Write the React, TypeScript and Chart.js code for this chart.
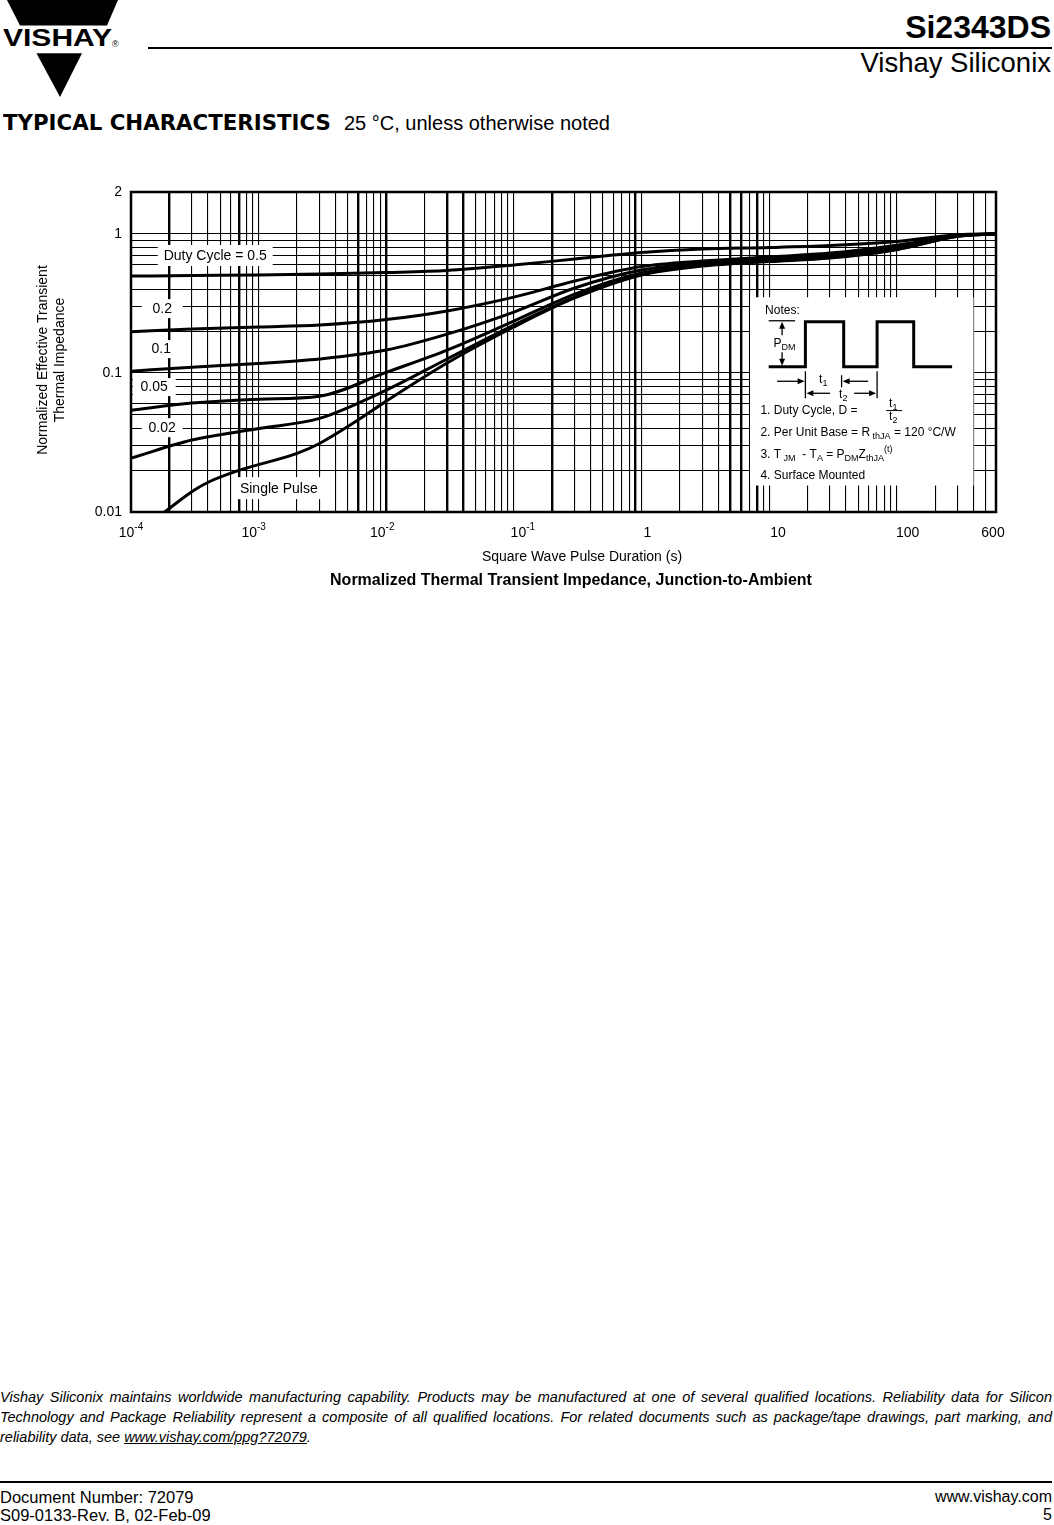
import React, { useEffect, useRef } from "react";
import { Chart, registerables } from "chart.js";

Chart.register(...registerables);

const FAM = '"Liberation Sans", Arial, Helvetica, sans-serif';

// ---------------- data ----------------
const xDuty = [1e-4, 3e-4, 1e-3, 3e-3, 1e-2, 3e-2, 0.1, 0.3, 1, 3, 10, 30, 100, 300, 600];
const yDuty05 = [0.497, 0.502, 0.506, 0.514, 0.527, 0.545, 0.597, 0.659, 0.734, 0.778, 0.797, 0.824, 0.881, 0.985, 1.0];
const yDuty02 = [0.198, 0.207, 0.214, 0.221, 0.242, 0.279, 0.351, 0.458, 0.582, 0.638, 0.682, 0.728, 0.83, 0.975, 1.0];
const yDuty01 = [0.103, 0.11, 0.117, 0.126, 0.146, 0.19, 0.274, 0.408, 0.549, 0.617, 0.659, 0.699, 0.8, 0.97, 1.0];
const yDuty005 = [0.054, 0.0607, 0.0648, 0.068, 0.101, 0.146, 0.236, 0.369, 0.523, 0.602, 0.648, 0.687, 0.79, 0.965, 1.0];
const yDuty002 = [0.0244, 0.0329, 0.0398, 0.0471, 0.0752, 0.126, 0.221, 0.351, 0.514, 0.592, 0.638, 0.676, 0.775, 0.96, 1.0];
const xSingle = [1.83e-4, 3.14e-4, 4.1e-4, 7.1e-4, 2e-3, 3e-3, 6e-3, 1e-2, 3e-2, 0.1, 0.3, 1, 3, 10, 30, 100, 300, 600];
const ySingle = [0.01, 0.0144, 0.0165, 0.02, 0.0264, 0.0311, 0.0458, 0.0627, 0.118, 0.214, 0.346, 0.506, 0.587, 0.632, 0.67, 0.77, 0.96, 1.0];

const seriesNames = ["Duty Cycle = 0.5", "0.2", "0.1", "0.05", "0.02", "Single Pulse"];

const xTickValues = [1e-4, 1e-3, 1e-2, 1e-1, 1, 10, 100, 600];
const xTickBase = ["10", "10", "10", "10", "1", "10", "100", "600"];
const xTickExp = ["-4", "-3", "-2", "-1", "", "", "", ""];
const yTickValues = [2, 1, 0.1, 0.01];
const yTickText = ["2", "1", "0.1", "0.01"];

// grid lines that are drawn heavier in the reference
const xThickGrid = [2e-4, 7e-4, 6e-3, 1e-2, 3e-2, 4e-2, 0.2, 0.9, 5, 6, 8];

// ---------------- layout (positions, not data) ----------------
const xTickShift = [0, -5, -4, 9, 6, 9, 11, -3];
const curveLabels = [
  { text: "Duty Cycle = 0.5", x: 4.57e-4, y: 0.699, w: 115, h: 21 },
  { text: "0.2", x: 1.756e-4, y: 0.29, w: 41, h: 19 },
  { text: "0.1", x: 1.726e-4, y: 0.1484, w: 33, h: 18 },
  { text: "0.05", x: 1.52e-4, y: 0.0791, w: 43, h: 18 },
  { text: "0.02", x: 1.756e-4, y: 0.0404, w: 41, h: 19 },
  { text: "Single Pulse", x: 1.44e-3, y: 0.01484, w: 88, h: 22 },
];
const notesBox = { x0: 7.1, x1: 400, y0: 0.35, y1: 0.0155 };

function logGrid(min: number, max: number) {
  const out: number[] = [];
  for (let e = Math.floor(Math.log10(min)); e <= Math.ceil(Math.log10(max)); e++) {
    for (let m = 1; m <= 9; m++) {
      const v = Number((m * Math.pow(10, e)).toPrecision(6));
      if (v >= min * 0.999999 && v <= max * 1.000001) out.push(v);
    }
  }
  return out;
}
const xGrid = logGrid(1e-4, 600);
const yGrid = logGrid(0.01, 2);
const isThick = (v: number) => v != null && xThickGrid.some((t) => Math.abs(Math.log10(v / t)) < 1e-6);

type Part = { t: string; sub?: boolean; sup?: boolean };
function drawRich(ctx: CanvasRenderingContext2D, x: number, y: number, parts: Part[], size: number) {
  let cx = x;
  ctx.textAlign = "left";
  ctx.textBaseline = "middle";
  for (const p of parts) {
    const s = p.sub || p.sup ? Math.round(size * 0.78) : size;
    ctx.font = `${s}px ${FAM}`;
    const dy = p.sub ? size * 0.35 : p.sup ? -size * 0.4 : 0;
    ctx.fillText(p.t, cx, y + dy);
    cx += ctx.measureText(p.t).width;
  }
}
function seg(ctx: CanvasRenderingContext2D, x1: number, y1: number, x2: number, y2: number) {
  ctx.beginPath();
  ctx.moveTo(x1, y1);
  ctx.lineTo(x2, y2);
  ctx.stroke();
}
function arrow(ctx: CanvasRenderingContext2D, x1: number, y1: number, x2: number, y2: number) {
  const a = Math.atan2(y2 - y1, x2 - x1);
  const L = 7, W = 3;
  seg(ctx, x1, y1, x2 - Math.cos(a) * 4, y2 - Math.sin(a) * 4);
  ctx.beginPath();
  ctx.moveTo(x2, y2);
  ctx.lineTo(x2 - L * Math.cos(a) + W * Math.sin(a), y2 - L * Math.sin(a) - W * Math.cos(a));
  ctx.lineTo(x2 - L * Math.cos(a) - W * Math.sin(a), y2 - L * Math.sin(a) + W * Math.cos(a));
  ctx.closePath();
  ctx.fill();
}

function drawNotes(ctx: CanvasRenderingContext2D, bx: number, by: number) {
  const X = (d: number) => bx + d;
  const Y = (d: number) => by + d;
  ctx.fillStyle = "#000";
  ctx.strokeStyle = "#000";
  drawRich(ctx, X(15), Y(13), [{ t: "Notes:" }], 12);
  ctx.lineWidth = 3;
  ctx.lineJoin = "miter";
  const wave = [[18.6, 69.5], [55.3, 69.5], [55.3, 24.5], [93.6, 24.5], [93.6, 69.5], [127, 69.5], [127, 24.5], [163.6, 24.5], [163.6, 69.5], [202, 69.5]];
  ctx.beginPath();
  wave.forEach(([dx, dy], i) => (i ? ctx.lineTo(X(dx), Y(dy)) : ctx.moveTo(X(dx), Y(dy))));
  ctx.stroke();
  ctx.lineWidth = 1.3;
  // P_DM
  seg(ctx, X(18.6), Y(23.5), X(45), Y(23.5));
  arrow(ctx, X(32), Y(38), X(32), Y(24.5));
  arrow(ctx, X(32), Y(55), X(32), Y(68.5));
  drawRich(ctx, X(23.3), Y(46), [{ t: "P" }, { t: "DM", sub: true }], 12);
  // t1
  arrow(ctx, X(27), Y(84), X(54.5), Y(84));
  seg(ctx, X(91.5), Y(78), X(91.5), Y(90));
  arrow(ctx, X(118), Y(84), X(92.5), Y(84));
  drawRich(ctx, X(69), Y(82), [{ t: "t" }, { t: "1", sub: true }], 12);
  // t2
  seg(ctx, X(55.3), Y(74), X(55.3), Y(101));
  arrow(ctx, X(80), Y(96), X(56.3), Y(96));
  seg(ctx, X(127), Y(74), X(127), Y(101));
  arrow(ctx, X(104), Y(96), X(126), Y(96));
  drawRich(ctx, X(89), Y(97), [{ t: "t" }, { t: "2", sub: true }], 12);
  // text notes
  drawRich(ctx, X(10.3), Y(113.5), [{ t: "1. Duty Cycle, D =" }], 12);
  drawRich(ctx, X(139), Y(106.5), [{ t: "t" }, { t: "1", sub: true }], 12);
  ctx.lineWidth = 1;
  seg(ctx, X(136), Y(113.3), X(152), Y(113.3));
  drawRich(ctx, X(139), Y(119.5), [{ t: "t" }, { t: "2", sub: true }], 12);
  drawRich(ctx, X(10.3), Y(135), [{ t: "2. Per Unit Base = R" }, { t: " thJA", sub: true }, { t: " = 120 °C/W" }], 12);
  drawRich(ctx, X(10.3), Y(157), [{ t: "3. T" }, { t: " JM", sub: true }, { t: "  - T" }, { t: "A", sub: true }, { t: " = P" }, { t: "DM", sub: true }, { t: "Z" }, { t: "thJA", sub: true }, { t: "(t)", sup: true }], 12);
  drawRich(ctx, X(10.3), Y(178), [{ t: "4. Surface Mounted" }], 12);
}

const decorPlugin = {
  id: "decor",
  beforeDatasetsDraw(chart: any) {
    const ctx: CanvasRenderingContext2D = chart.ctx;
    const xs = chart.scales.x;
    const ys = chart.scales.y;
    ctx.save();
    for (const L of curveLabels) {
      const cx = xs.getPixelForValue(L.x);
      const cy = ys.getPixelForValue(L.y);
      ctx.fillStyle = "#fff";
      ctx.fillRect(cx - L.w / 2, cy - L.h / 2, L.w, L.h);
      ctx.fillStyle = "#000";
      ctx.font = `14px ${FAM}`;
      ctx.textAlign = "center";
      ctx.textBaseline = "middle";
      ctx.fillText(L.text, cx, cy + 0.5);
    }
    const bx0 = xs.getPixelForValue(notesBox.x0);
    const bx1 = xs.getPixelForValue(notesBox.x1);
    const by0 = ys.getPixelForValue(notesBox.y0);
    const by1 = ys.getPixelForValue(notesBox.y1);
    ctx.fillStyle = "#fff";
    ctx.fillRect(bx0, by0, bx1 - bx0, by1 - by0);
    drawNotes(ctx, bx0, by0);
    ctx.restore();
  },
  afterDatasetsDraw(chart: any) {
    const ctx: CanvasRenderingContext2D = chart.ctx;
    const a = chart.chartArea;
    const xs = chart.scales.x;
    const ys = chart.scales.y;
    ctx.save();
    ctx.strokeStyle = "#000";
    ctx.lineWidth = 2.5;
    ctx.strokeRect(a.left, a.top, a.right - a.left, a.bottom - a.top);
    ctx.fillStyle = "#000";
    ctx.textBaseline = "middle";
    // x tick labels
    const ty = a.bottom + 21;
    xTickValues.forEach((v, i) => {
      const px = xs.getPixelForValue(v) + xTickShift[i];
      ctx.font = `14px ${FAM}`;
      const w1 = ctx.measureText(xTickBase[i]).width;
      ctx.font = `10px ${FAM}`;
      const w2 = xTickExp[i] ? ctx.measureText(xTickExp[i]).width : 0;
      const left = px - (w1 + w2) / 2;
      ctx.textAlign = "left";
      ctx.font = `14px ${FAM}`;
      ctx.fillText(xTickBase[i], left, ty);
      if (xTickExp[i]) {
        ctx.font = `10px ${FAM}`;
        ctx.fillText(xTickExp[i], left + w1, ty - 6);
      }
    });
    // y tick labels
    ctx.font = `14px ${FAM}`;
    ctx.textAlign = "right";
    yTickValues.forEach((v, i) => {
      ctx.fillText(yTickText[i], a.left - 9, ys.getPixelForValue(v));
    });
    ctx.restore();
  },
};

function ThermalChart() {
  const ref = useRef<HTMLCanvasElement | null>(null);
  useEffect(() => {
    if (!ref.current) return;
    const ys = [yDuty05, yDuty02, yDuty01, yDuty005, yDuty002];
    const datasets: any[] = ys.map((arr, k) => ({
      label: seriesNames[k],
      data: xDuty.map((x, i) => ({ x, y: arr[i] })),
    }));
    datasets.push({ label: seriesNames[5], data: xSingle.map((x, i) => ({ x, y: ySingle[i] })) });
    datasets.forEach((d) => {
      d.borderColor = "#000";
      d.borderWidth = 3;
      d.pointRadius = 0;
      d.fill = false;
      d.cubicInterpolationMode = "monotone";
      d.borderJoinStyle = "round";
    });
    const chart = new Chart(ref.current, {
      type: "line",
      data: { datasets },
      options: {
        responsive: false,
        animation: false,
        devicePixelRatio: 1,
        layout: { padding: { top: 42, right: 58, left: 0, bottom: 0 } },
        plugins: { legend: { display: false }, tooltip: { enabled: false } },
        elements: { point: { radius: 0 } },
        scales: {
          x: {
            type: "logarithmic",
            min: 1e-4,
            max: 600,
            afterBuildTicks: (s: any) => {
              s.ticks = xGrid.map((v) => ({ value: v }));
            },
            afterFit: (s: any) => {
              s.height = 88;
            },
            ticks: { display: false, autoSkip: false },
            grid: {
              color: "#000",
              drawTicks: false,
              lineWidth: (c: any) => (isThick(c.tick && c.tick.value) ? 2.4 : 1.1),
            },
            border: { display: false },
          },
          y: {
            type: "logarithmic",
            min: 0.01,
            max: 2,
            afterBuildTicks: (s: any) => {
              s.ticks = yGrid.map((v) => ({ value: v }));
            },
            afterFit: (s: any) => {
              s.width = 131;
            },
            ticks: { display: false, autoSkip: false },
            grid: { color: "#000", drawTicks: false, lineWidth: 1.1 },
            border: { display: false },
          },
        },
      } as any,
      plugins: [decorPlugin as any],
    });
    return () => chart.destroy();
  }, []);
  return <canvas ref={ref} width={1054} height={450} style={{ display: "block", width: 1054, height: 450 }} />;
}

export default function App() {
  const abs = (s: React.CSSProperties): React.CSSProperties => ({ position: "absolute", ...s });
  return (
    <div style={abs({ left: 0, top: 0, width: 1054, height: 1525, background: "#fff", fontFamily: FAM, color: "#000", overflow: "hidden" })}>
      <svg width={125} height={100} style={abs({ left: 0, top: 0 })}>
        <polygon points="7,0 118,0 107,25.5 20,25.5" fill="#000" />
        <polygon points="36.5,53.3 82,53.3 60,97" fill="#000" />
        <text x={3} y={45.5} fontFamily={FAM} fontWeight="bold" fontSize={24} textLength={109} lengthAdjust="spacingAndGlyphs">VISHAY</text>
        <text x={112} y={47} fontFamily={FAM} fontSize={9}>®</text>
      </svg>
      <div style={abs({ left: 148, top: 47, width: 904, height: 2, background: "#000" })} />
      <div style={abs({ right: 3, top: 11, fontSize: 32, fontWeight: "bold", lineHeight: "32px", whiteSpace: "nowrap" })}>Si2343DS</div>
      <div style={abs({ right: 3, top: 49, fontSize: 27.5, lineHeight: "27.5px", whiteSpace: "nowrap" })}>Vishay Siliconix</div>
      <div style={abs({ left: 3.3, top: 112.7, fontFamily: '"DejaVu Sans", sans-serif', fontWeight: "bold", fontSize: 20.5, lineHeight: "20.5px", whiteSpace: "nowrap", transform: "scaleX(1.04)", transformOrigin: "left center" })}>TYPICAL CHARACTERISTICS</div>
      <div style={abs({ left: 344, top: 113, fontSize: 20, lineHeight: "20px", whiteSpace: "nowrap" })}>25 °C, unless otherwise noted</div>

      <div style={abs({ left: 0, top: 150, width: 1054, height: 450 })}>
        <ThermalChart />
      </div>

      <div style={abs({ left: 50.5 - 130, top: 360 - 17, width: 260, height: 34, fontSize: 14, lineHeight: "17px", textAlign: "center", transform: "rotate(-90deg)", transformOrigin: "center center" })}>
        <div>Normalized Effective Transient</div>
        <div>Thermal Impedance</div>
      </div>
      <div style={abs({ left: 382, top: 547.5, width: 400, fontSize: 14, lineHeight: "17px", textAlign: "center" })}>Square Wave Pulse Duration (s)</div>
      <div style={abs({ left: 271, top: 571, width: 600, fontSize: 16, fontWeight: "bold", lineHeight: "18px", textAlign: "center" })}>Normalized Thermal Transient Impedance, Junction-to-Ambient</div>

      <div style={abs({ left: 0, top: 1387, width: 1052, fontSize: 14.5, lineHeight: "20px", fontStyle: "italic" })}>
        <div style={{ textAlign: "justify", textAlignLast: "justify" } as any}>Vishay Siliconix maintains worldwide manufacturing capability. Products may be manufactured at one of several qualified locations. Reliability data for Silicon</div>
        <div style={{ textAlign: "justify", textAlignLast: "justify" } as any}>Technology and Package Reliability represent a composite of all qualified locations. For related documents such as package/tape drawings, part marking, and</div>
        <div>reliability data, see <span style={{ textDecoration: "underline" }}>www.vishay.com/ppg?72079</span>.</div>
      </div>
      <div style={abs({ left: 0, top: 1481, width: 1052, height: 2, background: "#000" })} />
      <div style={abs({ left: 0, top: 1488, fontSize: 16.5, lineHeight: "18px", whiteSpace: "nowrap" })}>
        <div>Document Number: 72079</div>
        <div>S09-0133-Rev. B, 02-Feb-09</div>
      </div>
      <div style={abs({ right: 2, top: 1488, fontSize: 16, lineHeight: "18px", textAlign: "right", whiteSpace: "nowrap" })}>
        <div>www.vishay.com</div>
        <div>5</div>
      </div>
    </div>
  );
}
